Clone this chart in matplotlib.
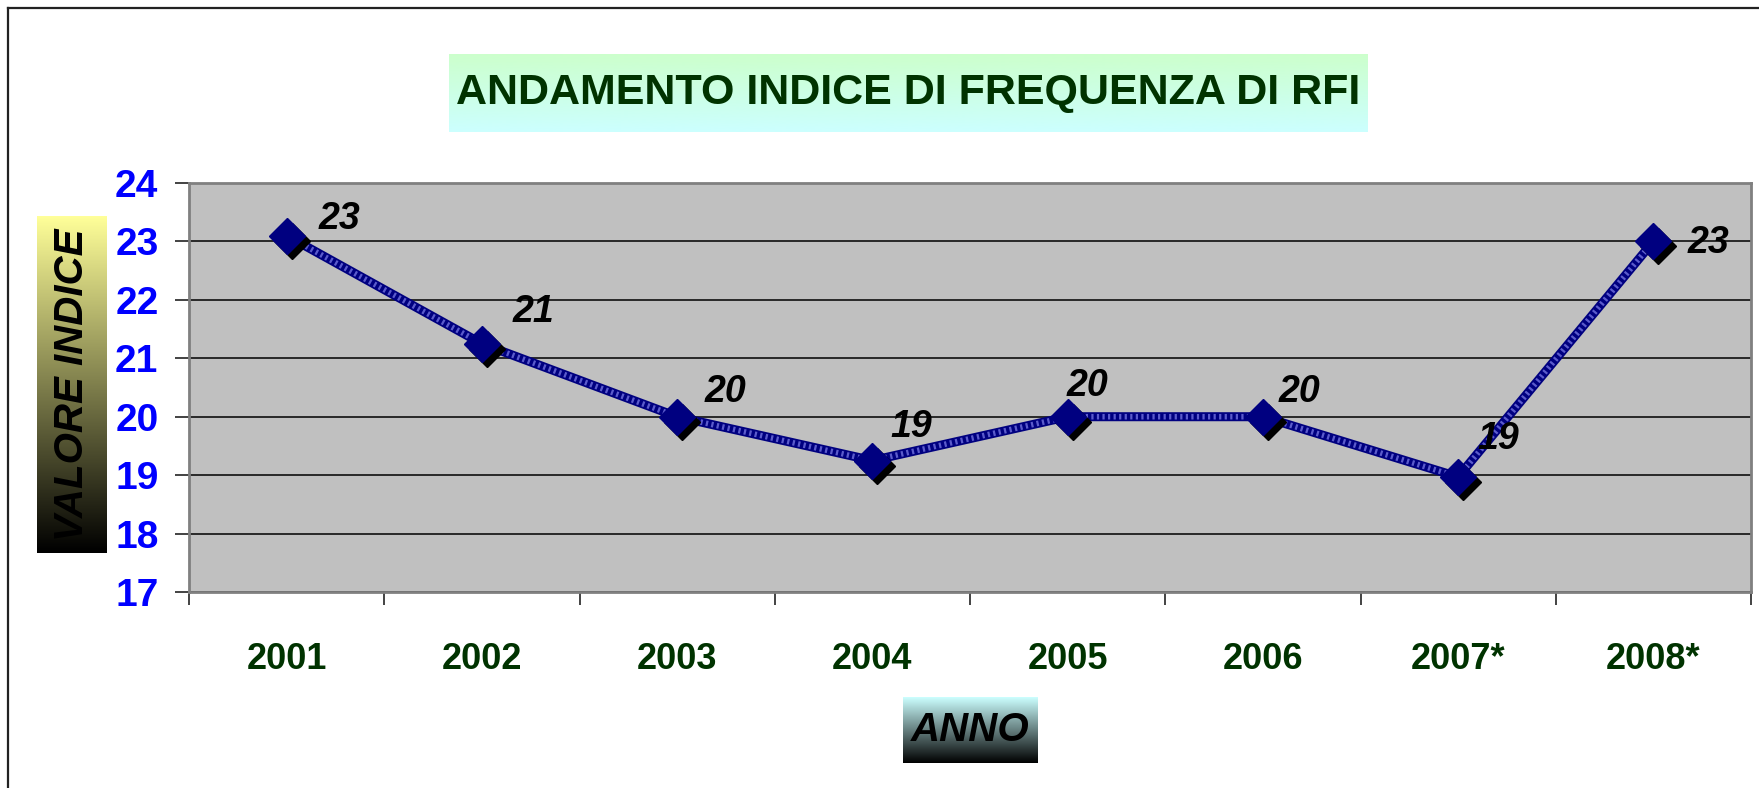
import numpy as np
import matplotlib
matplotlib.use("Agg")
import matplotlib.pyplot as plt
from matplotlib.lines import Line2D
import matplotlib.transforms as mtransforms
from matplotlib.colors import LinearSegmentedColormap

plt.rcParams["font.family"] = ["Liberation Sans", "DejaVu Sans"]

# data
years = ["2001", "2002", "2003", "2004", "2005", "2006", "2007*", "2008*"]
values = [23.1, 21.25, 20.0, 19.25, 20.0, 20.0, 18.97, 23.0]
value_labels = ["23", "21", "20", "19", "20", "20", "19", "23"]
y_ticks = [17, 18, 19, 20, 21, 22, 23, 24]

# label offsets in points (Excel placed them a bit unevenly)
label_offsets = [(38, 12), (37, 23), (35, 18), (28, 24), (14, 22), (26, 18), (29, 27), (40, -1)]

W, H = 1759, 788
fig = plt.figure(figsize=(W / 100, H / 100), dpi=100)
fig.patch.set_facecolor("white")


def fbox(x0, y0, x1, y1):
    # pixel box (top-left origin) -> figure fraction rect
    return [x0 / W, 1 - y1 / H, (x1 - x0) / W, (y1 - y0) / H]


# outer chart border (only top and left visible in the crop)
fig.add_artist(Line2D([8 / W, 8 / W], [0, 1 - 8 / H], color="#222222", lw=1.6))
fig.add_artist(Line2D([8 / W, 1], [1 - 8 / H, 1 - 8 / H], color="#222222", lw=1.6))

ax = fig.add_axes(fbox(189, 183, 1751, 592))
ax.set_facecolor("#C0C0C0")
for s in ax.spines.values():
    s.set_color("#808080")
    s.set_linewidth(2)

x = np.arange(len(years))
ax.set_xlim(-0.5, len(years) - 0.5)
ax.set_ylim(y_ticks[0], y_ticks[-1])

ax.set_yticks(y_ticks)
ax.set_yticklabels([str(t) for t in y_ticks], color="#0000FF", fontsize=28, fontweight="bold")
ax.tick_params(axis="y", length=10, width=1.2, color="#222222", pad=12)
ax.yaxis.grid(True, color="black", lw=1.1)
ax.set_axisbelow(True)

ax.set_xticks(x)
ax.set_xticklabels(years, color="#003300", fontsize=26, fontweight="bold")
ax.tick_params(axis="x", which="major", length=0, pad=36)
ax.set_xticks(np.arange(-0.5, len(years)), minor=True)
ax.tick_params(axis="x", which="minor", length=9, width=1.2, color="#222222")

# line with a hatched look
ax.plot(x, values, color="#000080", lw=6.5, solid_capstyle="butt", zorder=3)
ax.plot(x, values, color="#9999ff", lw=4, ls=(0, (0.4, 0.6)), alpha=0.6, zorder=3)

# marker shadow then marker
shadow = ax.transData + mtransforms.ScaledTranslation(5 / 100, -5 / 100, fig.dpi_scale_trans)
ax.plot(x, values, ls="none", marker="D", ms=18, color="black", transform=shadow, zorder=4)
ax.plot(x, values, ls="none", marker="D", ms=18, color="#000080", zorder=5)

for xi, v, lab, off in zip(x, values, value_labels, label_offsets):
    ax.annotate(lab, (xi, v), xytext=off, textcoords="offset points",
                ha="center", va="center", fontsize=27, fontweight="bold",
                fontstyle="italic", color="black", zorder=6)


def gradient_box(rect, top, bottom):
    bax = fig.add_axes(rect)
    cmap = LinearSegmentedColormap.from_list("g", [top, bottom])
    grad = np.linspace(0, 1, 256).reshape(-1, 1)
    bax.imshow(grad, cmap=cmap, aspect="auto", extent=[0, 1, 0, 1], origin="upper")
    bax.set_xlim(0, 1)
    bax.set_ylim(0, 1)
    bax.axis("off")
    return bax


# title box
tax = gradient_box(fbox(449, 54, 1367, 132), "#CCFFCC", "#CCFFFF")
tax.text(0.5, 0.5, "ANDAMENTO INDICE DI FREQUENZA DI RFI", ha="center", va="center",
         fontsize=31, fontweight="bold", color="#003300")

# y axis title box
yax = gradient_box(fbox(37, 216, 107, 553), "#FFFF99", "#000000")
yax.text(0.5, 0.5, "VALORE INDICE", ha="center", va="center", rotation=90,
         fontsize=29, fontweight="bold", fontstyle="italic", color="black")

# x axis title box
xax = gradient_box(fbox(903, 697, 1038, 763), "#CCFFFF", "#000000")
xax.text(0.5, 0.5, "ANNO", ha="center", va="center",
         fontsize=29, fontweight="bold", fontstyle="italic", color="black")

fig.savefig("out.png", dpi=100)
